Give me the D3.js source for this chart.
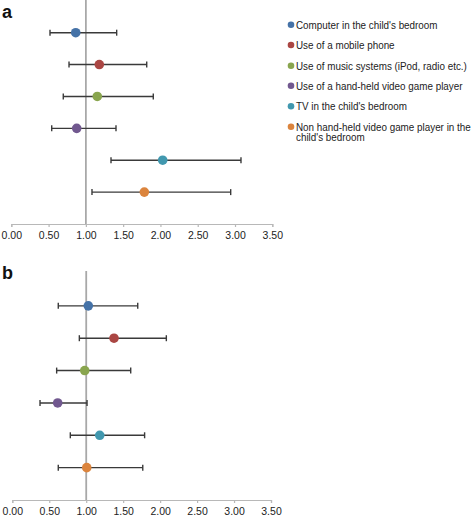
<!DOCTYPE html>
<html><head><meta charset="utf-8">
<script src="https://cdn.jsdelivr.net/npm/d3@7"></script>
<style>
html,body{margin:0;padding:0;background:#fff;}
svg{display:block;font-family:"Liberation Sans",Arial,sans-serif;}
</style></head>
<body>
<svg id="chart" width="472" height="520"></svg>
<script>
const categories = [
  "Computer in the child's bedroom",
  "Use of a mobile phone",
  "Use of music systems (iPod, radio etc.)",
  "Use of a hand-held video game player",
  "TV in the child's bedroom",
  "Non hand-held video game player in the child's bedroom"
];
const colors = ["#4572A7", "#AA4643", "#89A54E", "#71588F", "#4198AF", "#DB843D"];
const tickValues = [0, 0.5, 1, 1.5, 2, 2.5, 3, 3.5];

const aOR   = [0.864, 1.18, 1.153, 0.877, 2.03, 1.784];
const aLow  = [0.519, 0.774, 0.697, 0.542, 1.337, 1.082];
const aHigh = [1.413, 1.816, 1.904, 1.404, 3.08, 2.942];

const bOR   = [1.028, 1.376, 0.98, 0.614, 1.183, 1.007];
const bLow  = [0.622, 0.907, 0.60, 0.375, 0.785, 0.622];
const bHigh = [1.697, 2.084, 1.602, 1.011, 1.79, 1.765];

const svg = d3.select("#chart");

function panel(label, or, lo, hi, xr, yr, lineTop, labelY) {
  const x = d3.scaleLinear().domain([0, 3.5]).range(xr);
  const y = d3.scaleLinear().domain([0, 7]).range(yr);
  const g = svg.append("g");
  const ax = g.append("g").attr("transform", `translate(0,${yr[1]})`)
    .call(d3.axisBottom(x).tickValues(tickValues).tickFormat(d3.format(".2f")).tickSize(3).tickPadding(5));
  ax.select(".domain").attr("stroke", "#b8b8b8").attr("stroke-width", 1.2);
  ax.selectAll(".tick line").attr("stroke", "#b8b8b8").attr("stroke-width", 1.2);
  ax.selectAll(".tick text").attr("fill", "#222").style("font-size", "10.5px")
    .style("font-family", '"Liberation Sans",Arial,sans-serif');
  g.append("line").attr("x1", x(1)).attr("x2", x(1)).attr("y1", lineTop).attr("y2", yr[1])
    .attr("stroke", "#a8a8a8").attr("stroke-width", 1.8);
  const idx = d3.range(or.length);
  const eb = g.append("g").attr("stroke", "#3a3a3a").attr("stroke-width", 1.4);
  eb.selectAll("line.h").data(idx).join("line").attr("class", "h")
    .attr("x1", i => x(lo[i])).attr("x2", i => x(hi[i]))
    .attr("y1", i => y(i + 1)).attr("y2", i => y(i + 1));
  eb.selectAll("line.l").data(idx).join("line").attr("class", "l")
    .attr("x1", i => x(lo[i])).attr("x2", i => x(lo[i]))
    .attr("y1", i => y(i + 1) - 3).attr("y2", i => y(i + 1) + 3);
  eb.selectAll("line.r").data(idx).join("line").attr("class", "r")
    .attr("x1", i => x(hi[i])).attr("x2", i => x(hi[i]))
    .attr("y1", i => y(i + 1) - 3).attr("y2", i => y(i + 1) + 3);
  g.selectAll("circle").data(idx).join("circle")
    .attr("cx", i => x(or[i])).attr("cy", i => y(i + 1)).attr("r", 4.8)
    .attr("fill", i => colors[i]);
  svg.append("text").attr("x", 2).attr("y", labelY).text(label)
    .attr("font-weight", "bold").attr("font-size", "18px").attr("fill", "#111");
}

panel("a", aOR, aLow, aHigh, [11.3, 272.3], [0.8, 224], 0, 18);
panel("b", bOR, bLow, bHigh, [12.3, 271], [273.5, 500], 271, 279);

// legend
const legendY = [24.7, 45, 65.7, 85.7, 106.3, 126.7];
const lg = svg.append("g");
const texts = [];
categories.forEach((c, i) => {
  lg.append("circle").attr("cx", 291).attr("cy", legendY[i]).attr("r", 3.3).attr("fill", colors[i]);
  const t = lg.append("text").attr("x", 296).attr("y", legendY[i] + 4)
    .attr("font-size", "11px").attr("fill", "#222");
  if (i === 5) {
    t.append("tspan").attr("x", 296).text("Non hand-held video game player in the");
    t.append("tspan").attr("x", 296).attr("dy", 10.6).text("child's bedroom");
  } else {
    t.text(c);
  }
  texts.push(t);
});
// fit legend text width to reference (longest line ~171px)
const w = texts[2].node().getComputedTextLength();
const k = Math.min(1, 171 / w);
texts.forEach(t => t.attr("transform", `translate(296,0) scale(${k},1) translate(-296,0)`));
</script>
</body></html>
